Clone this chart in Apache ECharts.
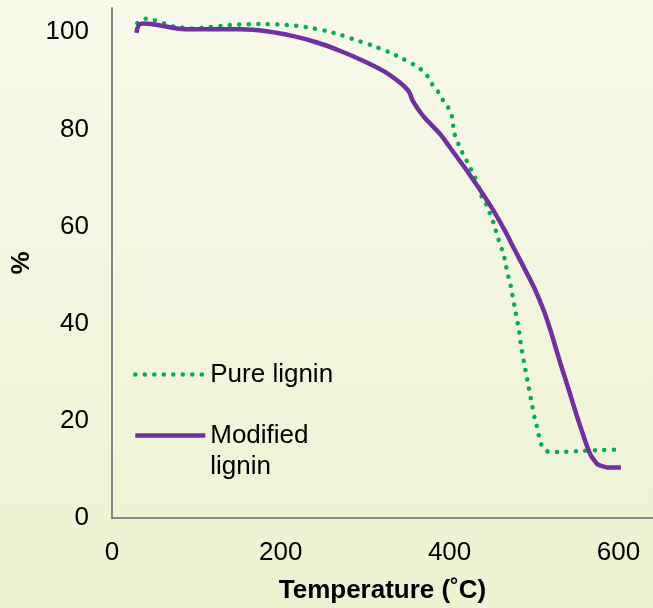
<!DOCTYPE html>
<html>
<head>
<meta charset="utf-8">
<script src="https://cdn.jsdelivr.net/npm/echarts@6/dist/echarts.min.js"></script>
<style>
  html, body { margin: 0; padding: 0; }
  #chart { width: 653px; height: 608px; }
</style>
</head>
<body>
<div id="chart"></div>
<script>
// 温度 (°C) 与 失重 (%) —— 从图上读取
const pureTemp = [30, 35, 40, 50, 59, 73, 94, 112, 134, 150, 177, 198, 215, 236, 253, 272, 289, 308, 327, 344, 362, 370, 376, 381, 388, 393, 398, 402, 404, 405, 409, 413, 418, 423, 428, 432, 438, 444, 448, 452, 458, 462, 465, 469, 472, 474, 478, 482, 485, 489, 493, 497, 501, 504, 506, 509, 516, 532, 553, 581, 602]
const pureVal = [101.9, 102.5, 102.8, 102.5, 102.0, 101.2, 100.8, 101.0, 101.4, 101.6, 101.7, 101.6, 101.4, 100.9, 100.3, 99.4, 98.4, 97.3, 96.0, 94.6, 92.9, 91.8, 90.4, 88.8, 87.4, 85.7, 84.6, 83.2, 81.4, 79.4, 77.7, 75.9, 74.3, 72.6, 70.9, 69.3, 66.2, 64.4, 62.6, 60.8, 57.3, 55.3, 53.5, 50.1, 48.2, 46.3, 42.6, 38.9, 35.1, 31.3, 27.6, 23.9, 20.4, 18.5, 16.8, 15.0, 13.7, 13.6, 13.8, 14.0, 14.1]

const modTemp = [29, 30, 32, 37, 50, 61, 77, 96, 116, 152, 183, 215, 243, 270, 298, 322, 340, 350, 353, 356, 369, 389, 405, 421, 436, 452, 466, 476, 488, 500, 512, 521, 531, 541, 551, 561, 567, 575, 587, 603]
const modVal = [99.9, 100.8, 101.5, 101.8, 101.6, 101.3, 100.8, 100.6, 100.6, 100.6, 100.2, 99.2, 97.9, 96.2, 94.1, 92.0, 89.8, 88.2, 87.4, 86.0, 82.7, 79.0, 75.2, 71.4, 67.6, 63.3, 59.0, 55.6, 51.6, 47.5, 42.5, 37.8, 32.0, 26.5, 20.9, 15.7, 13.0, 11.1, 10.4, 10.4]

const yTicks = [0, 20, 40, 60, 80, 100]
const xTicks = [0, 200, 400, 600]

const font = 'Liberation Sans, Arial, sans-serif'

const myChart = echarts.init(document.getElementById('chart'))

const zip = (xs, ys) => xs.map((x, i) => [x, ys[i]])

const legendText = { fontSize: 26, color: '#000', fontFamily: font, lineHeight: 31 }

const options = {
  animation: false,
  backgroundColor: {
    type: 'linear', x: 0, y: 0, x2: 0, y2: 1,
    colorStops: [
      { offset: 0, color: '#f8f9ea' },
      { offset: 1, color: '#edf2d1' }
    ]
  },
  grid: { left: 112, right: 0, top: 8, bottom: 90, outerBoundsMode: 'none' },
  legend: [
    {
      data: ['Pure lignin'],
      left: 128, top: 354,
      itemWidth: 70, itemHeight: 14,
      itemStyle: { color: 'rgba(0,0,0,0)', borderWidth: 0 },
      lineStyle: { width: 4.5, cap: 'round' },
      textStyle: legendText
    },
    {
      data: ['Modified lignin'],
      left: 128, top: 384,
      itemWidth: 70, itemHeight: 14,
      itemStyle: { color: 'rgba(0,0,0,0)', borderWidth: 0 },
      lineStyle: { width: 4.5 },
      // 第一行留空，让图标对齐 "Modified"
      formatter: () => ' \nModified\nlignin',
      textStyle: legendText
    }
  ],
  xAxis: {
    type: 'value',
    min: 0, max: 641, interval: 200,
    name: 'Temperature (˚C)',
    nameLocation: 'middle',
    nameGap: 60,
    nameTextStyle: { fontSize: 26, fontWeight: 'bold', color: '#000', fontFamily: font },
    axisLine: { show: true, lineStyle: { color: '#878787', width: 2 } },
    axisTick: { show: false },
    splitLine: { show: false },
    axisLabel: {
      margin: 22, fontSize: 26, color: '#000', fontFamily: font,
      formatter: v => xTicks.includes(v) ? String(v) : ''
    }
  },
  yAxis: {
    type: 'value',
    min: 0, max: 105, interval: 20,
    name: '%',
    nameLocation: 'middle',
    nameGap: 73,
    nameTextStyle: { fontSize: 26, fontWeight: 'bold', color: '#000', fontFamily: font },
    axisLine: { show: true, lineStyle: { color: '#878787', width: 2 } },
    axisTick: { show: false },
    splitLine: { show: false },
    axisLabel: {
      margin: 23, fontSize: 26, color: '#000', fontFamily: font,
      formatter: v => yTicks.includes(v) ? String(v) : ''
    }
  },
  series: [
    {
      name: 'Pure lignin',
      type: 'line',
      symbol: 'none',
      smooth: 0.15,
      data: zip(pureTemp, pureVal),
      lineStyle: { color: '#00b050', width: 4.5, type: [0.1, 9.4], cap: 'round' },
      itemStyle: { color: '#00b050' }
    },
    {
      name: 'Modified lignin',
      type: 'line',
      symbol: 'none',
      smooth: 0.15,
      data: zip(modTemp, modVal),
      lineStyle: { color: '#7030a0', width: 4.5 },
      itemStyle: { color: '#7030a0' }
    }
  ]
}

myChart.setOption(options)
</script>
</body>
</html>
